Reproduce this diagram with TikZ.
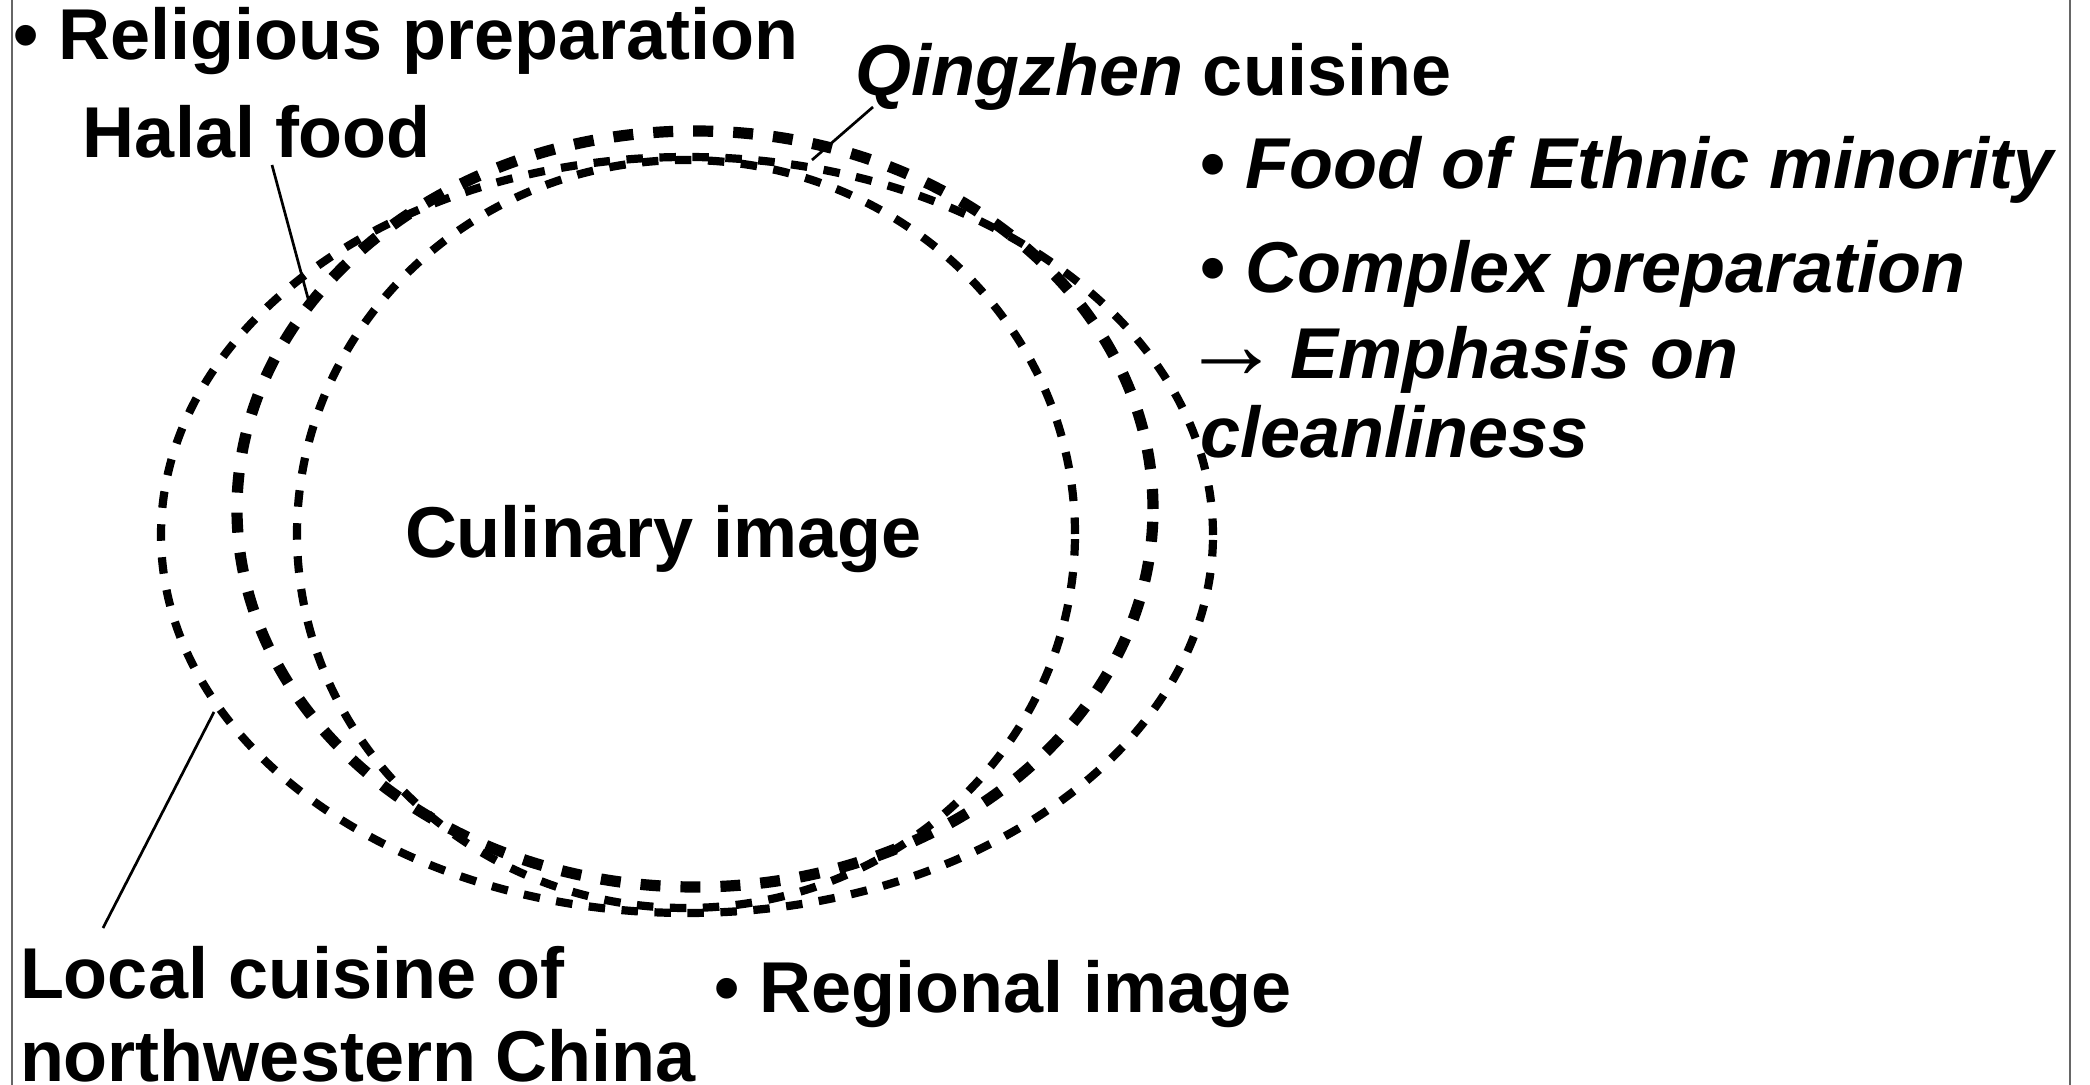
\documentclass[tikz,border=0pt]{standalone}
\usepackage{fontspec}
\setmainfont{Liberation Sans}
\newfontfamily\arrowfont{Liberation Serif}
\begin{document}
\begin{tikzpicture}[x=0.5pt,y=-0.5pt,
  lbl/.style={font=\fontsize{36}{43}\selectfont\bfseries, anchor=base west, inner sep=0pt, outer sep=0pt, text=black},
  ringthin/.style={draw=black, line width=4.1pt, dash pattern=on 8.25pt off 8.25pt},
  ringthick/.style={draw=black, line width=5.6pt, dash pattern=on 10pt off 10pt},
  leader/.style={draw=black, line width=1.35pt},
  frameline/.style={draw=black!60, line width=1pt}]
\useasboundingbox (0,0) rectangle (2090,1085);
\fill[white] (0,0) rectangle (2090,1085);
\draw[frameline] (12,0) -- (12,1085);
\draw[frameline] (2070,0) -- (2070,1085);
% rings
\draw[ringthin]  (687,535) ellipse [x radius=263pt, y radius=189pt];
\draw[ringthick] (695,509) ellipse [x radius=229pt, y radius=189pt];
\draw[ringthin]  (686,534) ellipse [x radius=194.5pt, y radius=187pt];
% labels
\node[lbl] (relig)   at (13,60)    {• Religious preparation};
\node[lbl] (halal)   at (83,158)   {Halal food};
\node[lbl] (qing)    at (855,96)   {\textit{Qingzhen} cuisine};
\node[lbl] (ethnic)  at (1200,189) {• \textit{Food of Ethnic minority}};
\node[lbl] (complex) at (1200,293) {• \textit{Complex preparation}};
\node[lbl] (emph)    at (1181,379) {{\arrowfont\mdseries\fontsize{50}{50}\selectfont →}\hspace{4.5pt}\textit{Emphasis on}};
\node[lbl] (clean)   at (1200,458) {\textit{cleanliness}};
\node[lbl] (culin)   at (405,558)  {Culinary image};
\node[lbl] (local1)  at (20,998)   {Local cuisine of};
\node[lbl] (local2)  at (20,1081)  {northwestern China};
\node[lbl] (region)  at (714,1012) {• Regional image};
% leader lines
\coordinate (halalS) at (272,165);
\coordinate (halalE) at (309,302);
\coordinate (qingS)  at (873,107);
\coordinate (qingE)  at (812,160);
\coordinate (localS) at (103,928);
\coordinate (localE) at (214,712);
\draw[leader] (halalS) -- (halalE);
\draw[leader] (qingS) -- (qingE);
\draw[leader] (localS) -- (localE);
\end{tikzpicture}
\end{document}
